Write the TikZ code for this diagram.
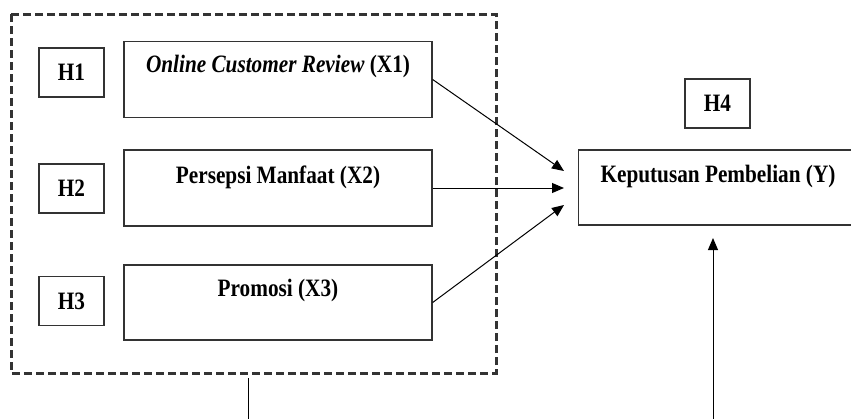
\documentclass[tikz,border=0pt]{standalone}
\usepackage{fontspec}
\setmainfont{Liberation Serif}[FakeStretch=0.85]
\usetikzlibrary{arrows.meta}
\begin{document}
\begin{tikzpicture}[x=1pt,y=-1pt,
  hbox/.style={draw=black!80, line width=1.3pt, minimum width=65pt, minimum height=49pt, inner sep=0pt,
    font=\fontsize{25}{28}\selectfont\bfseries},
  vbox/.style={draw=black!80, line width=1.3pt, minimum width=308pt, minimum height=76pt, inner sep=0pt},
  lbl/.style={anchor=base, inner sep=0pt, font=\fontsize{25}{28}\selectfont\bfseries},
  arr/.style={line width=1pt, -{Triangle[length=12pt,width=10pt]}},
  grp/.style={draw=black!80, line width=3pt, dash pattern=on 8pt off 4pt}]
\clip (0,0) rectangle (851,418);
\fill[white] (0,0) rectangle (851,418);
% dashed group
\draw[grp] (11,14) rectangle (496,373);
% hypothesis boxes
\node[hbox] (h1) at (71.5,72.5) {H1};
\node[hbox] (h2) at (71.5,188.5) {H2};
\node[hbox] (h3) at (71.5,301) {H3};
\node[hbox] (h4) at (717.5,103.5) {H4};
% variable boxes
\node[vbox] (x1) at (278,79.5) {};
\node[vbox] (x2) at (278,188) {};
\node[vbox, minimum height=75pt] (x3) at (278,302.5) {};
\node[lbl] (x1t) at (278,72) {\textit{Online Customer Review} (X1)};
\node[lbl] (x2t) at (278,183) {Persepsi Manfaat (X2)};
\node[lbl] (x3t) at (278,296) {Promosi (X3)};
% dependent box (extends past right edge)
\node[draw=black!80, line width=1.3pt, minimum width=300pt, minimum height=75pt, inner sep=0pt, anchor=west] (y) at (578,187.5) {};
\node[lbl] (yt) at (718,182) {Keputusan Pembelian (Y)};
% arrow targets
\coordinate (t1) at (564,171);
\coordinate (t2) at (564,188);
\coordinate (t3) at (564,205);
\draw[arr] (x1.east) -- (t1);
\draw[arr] (x2.east) -- (t2);
\draw[arr] (x3.east) -- (t3);
% bottom lines
\coordinate (b1) at (248,378);
\coordinate (b1e) at (248,420);
\draw[line width=1pt] (b1) -- (b1e);
\coordinate (b2) at (713,420);
\coordinate (b2e) at (713,238);
\draw[arr] (b2) -- (b2e);
\end{tikzpicture}
\end{document}
